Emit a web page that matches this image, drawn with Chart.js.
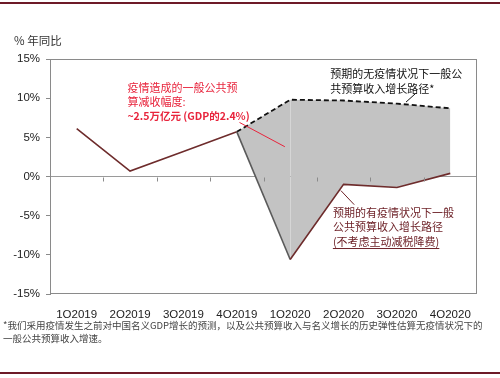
<!DOCTYPE html>
<html>
<head>
<meta charset="utf-8">
<script src="https://cdn.jsdelivr.net/npm/chart.js@4.4.1/dist/chart.umd.min.js"></script>
<style>
  html, body { margin: 0; padding: 0; background: #fff; }
  #wrap { width: 500px; height: 378px; position: relative; }
</style>
</head>
<body>
<div id="wrap"><canvas id="chart" width="500" height="378"></canvas></div>
<script>
const quarters = ['1Q2019', '2Q2019', '3Q2019', '4Q2019', '1Q2020', '2Q2020', '3Q2020', '4Q2020'];
// 有疫情状况下的增长路径
const actualGrowth = [6.1, 0.7, 3.2, 5.7, -10.6, -1.0, -1.4, 0.4];
// 无疫情状况下的增长路径
const noEpidemicGrowth = [null, null, null, 5.7, 9.8, 9.7, 9.3, 8.7];
const yTicks = [-15, -10, -5, 0, 5, 10, 15];

const CJK = '"Noto Sans CJK SC", "Noto Sans", sans-serif';
const LAT = '"Liberation Sans", Arial, sans-serif';

// 画框、零线刻度、注释文字和引线
const decorPlugin = {
  id: 'decor',
  afterDraw(chart) {
    const ctx = chart.ctx;
    const area = chart.chartArea;
    const x = chart.scales.x;
    const y = chart.scales.y;
    ctx.save();

    // 顶部与底部的暗红色线
    ctx.fillStyle = '#6d1a28';
    ctx.fillRect(0, 2, 500, 2);
    ctx.fillRect(0, 372, 500, 2);

    // 绘图区边框
    ctx.strokeStyle = '#8a8a8a';
    ctx.lineWidth = 1;
    ctx.strokeRect(area.left + 0.5, area.top + 0.5, area.right - area.left - 1, area.bottom - area.top - 1);

    // 零线上的分类刻度
    const zy = Math.round(y.getPixelForValue(0)) + 0.5;
    ctx.beginPath();
    for (let i = 0; i < quarters.length - 1; i++) {
      const bx = Math.round((x.getPixelForValue(i) + x.getPixelForValue(i + 1)) / 2) + 0.5;
      ctx.moveTo(bx, zy);
      ctx.lineTo(bx, zy + 4);
    }
    ctx.stroke();

    // 轴标题
    ctx.fillStyle = '#333';
    ctx.font = '11.5px ' + CJK;
    ctx.textBaseline = 'middle';
    ctx.textAlign = 'left';
    ctx.fillText('% 年同比', 14, 41);

    const px = (i) => x.getPixelForValue(i);
    const py = (v) => y.getPixelForValue(v);

    // 红色注释
    ctx.fillStyle = '#e8243c';
    ctx.font = '11px ' + CJK;
    ctx.fillText('疫情造成的一般公共预', px(0.95), py(11.3));
    ctx.fillText('算减收幅度:', px(0.95), py(9.5));
    ctx.font = 'bold 10.5px ' + CJK;
    ctx.fillText('~2.5万亿元 (GDP的2.4%)', px(0.95), py(7.7));
    ctx.strokeStyle = '#e8243c';
    ctx.beginPath();
    ctx.moveTo(px(3.05), py(6.9));
    ctx.lineTo(px(3.9), py(3.8));
    ctx.stroke();

    // 无疫情注释
    ctx.fillStyle = '#111';
    ctx.font = '11px ' + CJK;
    ctx.fillText('预期的无疫情状况下一般公', px(4.75), py(13.1));
    ctx.fillText('共预算收入增长路径*', px(4.75), py(11.2));
    ctx.strokeStyle = '#111';
    ctx.beginPath();
    ctx.moveTo(px(6.17), py(9.5));
    ctx.lineTo(px(6.35), py(10.6));
    ctx.stroke();

    // 有疫情注释
    ctx.fillStyle = '#6e2228';
    ctx.fillText('预期的有疫情状况下一般', px(4.8), py(-4.6));
    ctx.fillText('公共预算收入增长路径', px(4.8), py(-6.4));
    const t3 = '(不考虑主动减税降费)';
    const ty = py(-8.3);
    ctx.fillText(t3, px(4.8), ty);
    const w3 = ctx.measureText(t3).width;
    ctx.strokeStyle = '#6e2228';
    ctx.beginPath();
    ctx.moveTo(px(4.8), ty + 7);
    ctx.lineTo(px(4.8) + w3, ty + 7);
    ctx.moveTo(px(4.95), py(-1.8));
    ctx.lineTo(px(5.2), py(-3.6));
    ctx.stroke();

    // 脚注
    ctx.fillStyle = '#444';
    ctx.font = '9.5px ' + CJK;
    ctx.fillText('*我们采用疫情发生之前对中国名义GDP增长的预测，以及公共预算收入与名义增长的历史弹性估算无疫情状况下的', 3, 325);
    ctx.fillText('一般公共预算收入增速。', 3, 338);

    ctx.restore();
  }
};

new Chart(document.getElementById('chart'), {
  type: 'line',
  data: {
    labels: quarters,
    datasets: [
      {
        label: '有疫情',
        data: actualGrowth,
        borderColor: '#6e2c2c',
        borderWidth: 1.6,
        pointRadius: 0,
        tension: 0,
        fill: false,
        order: 1,
        segment: {
          borderColor: (c) => c.p0DataIndex === 3 ? '#5a5a5a' : undefined
        }
      },
      {
        label: '无疫情',
        data: noEpidemicGrowth,
        borderColor: '#111',
        borderWidth: 1.8,
        borderDash: [5, 3],
        pointRadius: 0,
        tension: 0,
        fill: { target: 0 },
        backgroundColor: '#c3c3c3',
        order: 2
      }
    ]
  },
  options: {
    responsive: false,
    animation: false,
    layout: { padding: { left: 0, right: 23, top: 59, bottom: 60 } },
    plugins: {
      legend: { display: false },
      tooltip: { enabled: false }
    },
    scales: {
      x: {
        offset: true,
        grid: { display: false },
        border: { display: false },
        ticks: {
          color: '#222',
          font: { family: LAT, size: 11.5 },
          maxRotation: 0,
          padding: 6
        },
        afterFit(scale) { scale.height = 24; }
      },
      y: {
        min: -15,
        max: 15,
        afterBuildTicks(scale) { scale.ticks = yTicks.map(v => ({ value: v })); },
        grid: {
          drawOnChartArea: true,
          color: (c) => c.tick && c.tick.value === 0 ? '#9a9a9a' : 'rgba(0,0,0,0)',
          tickColor: '#8a8a8a',
          tickLength: 4
        },
        border: { display: true, color: '#8a8a8a' },
        ticks: {
          color: '#222',
          font: { family: LAT, size: 11.5 },
          padding: 6,
          callback: (v) => v + '%'
        },
        afterFit(scale) { scale.width = 50; }
      }
    }
  },
  plugins: [decorPlugin]
});
</script>
</body>
</html>
